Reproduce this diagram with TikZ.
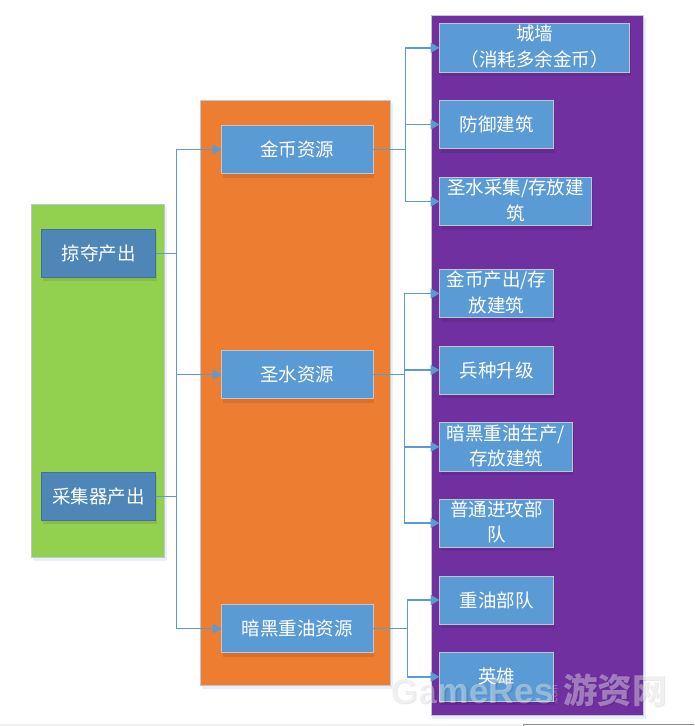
\documentclass[tikz,border=0pt]{standalone}
\usepackage{fontspec}
\setmainfont{Noto Sans CJK SC}
\newfontfamily\wmfont{Liberation Sans}[Scale=1]
\usetikzlibrary{arrows.meta}
\definecolor{cblue}{HTML}{5B9BD5}
\definecolor{dblue}{HTML}{4E86B8}
\definecolor{dedge}{HTML}{41719C}
\definecolor{cgreen}{HTML}{92D050}
\definecolor{corange}{HTML}{ED7D31}
\definecolor{cpurple}{HTML}{7030A0}
\definecolor{cedge}{HTML}{BFC7D0}
\tikzset{
  x=1pt,y=-1pt,
  panel/.style={draw=cedge,line width=1pt,inner sep=0pt,outer sep=0pt},
  item/.style={draw=cedge,fill=cblue,line width=1pt,text=white,font=\fontsize{18.5}{25.5}\selectfont,align=center,inner sep=0pt,outer sep=0pt,minimum height=48pt,anchor=north west},
  src/.style={item,draw=dedge,fill=dblue,minimum width=114pt},
  conn/.style={draw=cblue,line width=1.5pt,-{Triangle[length=9pt,width=10pt]}},
  feed/.style={draw=cblue,line width=1.5pt},
  wmfill/.style={text=white,opacity=.38,inner sep=0pt},
  wmshade/.style={text=black,opacity=.09,inner sep=0pt},
}
\newcommand{\panelbox}[6]{% name, x1,y1,x2,y2, colour
  \fill[cblue,opacity=.14] (#2+1,#3+2) rectangle (#4+3,#5+4);
  \path[panel,fill=#6] (#2,#3) rectangle (#4,#5);
  \coordinate (#1) at (#2,#3);
}
\newcommand{\itembox}[7][item]{% style, name, x1, y1, width, height, text
  \fill[black,opacity=.09] (#3+1,#4+2) rectangle ++(#5,#6+2);
  \node[#1,minimum width=#5pt,minimum height=#6pt] (#2) at (#3,#4) {#7\par\vspace{2pt}};
}
\begin{document}
\begin{tikzpicture}
\useasboundingbox (0,0) rectangle (694,726);
\fill[white] (0,0) rectangle (694,726);
\fill[black!6] (0,724) rectangle (522,726);
\draw[black!45,line width=.7pt] (523,726) -- (523,724.5) -- (694,724.5);

\panelbox{greenp}{31.5}{204.5}{164}{557}{cgreen}
\panelbox{orangep}{200.5}{100.5}{390}{685}{corange}
\panelbox{purplep}{431}{15.5}{643}{715}{cpurple}

\itembox[src]{loot}{41.5}{229.5}{114}{47.5}{掠夺产出}
\itembox[src]{collect}{41.5}{472.5}{114}{47.5}{采集器产出}

\itembox{gold}{221.5}{125.5}{151.5}{48}{金币资源}
\itembox{holy}{221.5}{350.5}{151.5}{48}{圣水资源}
\itembox{dark}{221.5}{604.5}{151.5}{48}{暗黑重油资源}

\itembox{wall}{439.5}{23.5}{190}{48.5}{城墙\\（消耗多余金币）}
\itembox{defense}{439.5}{100.5}{114}{48}{防御建筑}
\itembox{holybld}{439.5}{177.5}{152}{48}{圣水采集/存放建\\筑}
\itembox{goldbld}{439.5}{269.5}{114}{48}{金币产出/存\\放建筑}
\itembox{upgrade}{439.5}{346}{114}{48}{兵种升级}
\itembox{darkbld}{439.5}{422.5}{133}{48.5}{暗黑重油生产/\\存放建筑}
\itembox{troops}{439.5}{499}{114}{48}{普通进攻部\\队}
\itembox{darktroops}{439.5}{576}{114}{48}{重油部队}
\itembox{hero}{439.5}{652.5}{114}{48.5}{英雄}

\coordinate (busL) at (176.5,0);
\coordinate (busG) at (405.5,0);
\coordinate (busH) at (404.5,0);
\coordinate (busD) at (407.5,0);

\draw[feed] (loot.east) -- (busL |- loot.east);
\draw[feed] (collect.east) -- (busL |- collect.east);
\draw[conn] (busL |- loot.east) |- (gold.west);
\draw[conn] (busL |- loot.east) |- (holy.west);
\draw[feed] (busL |- loot.east) -- (busL |- collect.east);
\draw[conn] (busL |- collect.east) |- (dark.west);

\draw[feed] (gold.east) -- (busG |- gold.east);
\draw[conn] (busG |- gold.east) |- (wall.west);
\draw[conn] (busG |- gold.east) |- (defense.west);
\draw[conn] (busG |- gold.east) |- (holybld.west);

\draw[feed] (holy.east) -- (busH |- holy.east);
\draw[conn] (busH |- holy.east) |- (goldbld.west);
\draw[conn] (busH |- holy.east) |- (upgrade.west);
\draw[conn] (busH |- holy.east) |- (darkbld.west);
\draw[conn] (busH |- holy.east) |- (troops.west);

\draw[feed] (dark.east) -- (busD |- dark.east);
\draw[conn] (busD |- dark.east) |- (darktroops.west);
\draw[conn] (busD |- dark.east) |- (hero.west);

% watermark: soft shade under pale white letters
\node[wmshade,font=\wmfont\bfseries\fontsize{35.5}{35}\selectfont,anchor=base west] (wm1s) at (391.5,704.5) {GameRes};
\node[wmshade,font=\wmfont\fontsize{9}{9}\selectfont,rotate=90,anchor=center] (wm2s) at (556.5,696.5) {.com};
\node[wmshade,font=\bfseries\fontsize{34.5}{35}\selectfont,anchor=west] (wm3s) at (564.5,691.5) {游资网};
\node[wmfill,font=\wmfont\bfseries\fontsize{35.5}{35}\selectfont,anchor=base west] (wm1) at (390,703) {GameRes};
\node[wmfill,font=\wmfont\fontsize{9}{9}\selectfont,rotate=90,anchor=center] (wm2) at (555,695) {.com};
\node[wmfill,font=\bfseries\fontsize{34.5}{35}\selectfont,anchor=west] (wm3) at (563,690) {游资网};
\end{tikzpicture}
\end{document}
